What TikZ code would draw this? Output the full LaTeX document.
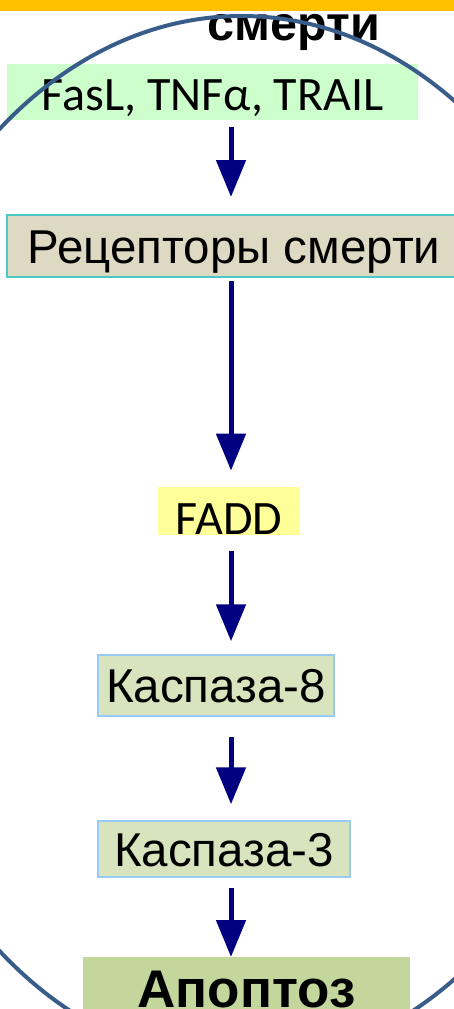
\documentclass[tikz,border=0pt]{standalone}
\usepackage{fontspec}
\usepackage{xcolor}
\setmainfont{Liberation Sans}
\newfontfamily\calibri{Carlito}
\usetikzlibrary{arrows.meta}

\definecolor{ovalblue}{HTML}{385D8A}
\definecolor{barorange}{HTML}{FFC000}
\definecolor{arrownavy}{HTML}{000080}
\definecolor{ligandgreen}{HTML}{CCFFCC}
\definecolor{receptorbeige}{HTML}{DDD9C3}
\definecolor{receptorteal}{HTML}{4BC8C8}
\definecolor{faddyellow}{HTML}{FFFF99}
\definecolor{caspasegreen}{HTML}{D7E4BD}
\definecolor{caspaseblue}{HTML}{99CCF5}
\definecolor{apoptosisgreen}{HTML}{C3D69B}

\begin{document}
\begin{tikzpicture}[x=1pt,y=-1pt,
	flow/.style={draw=arrownavy,line width=5pt,-{Triangle[length=37pt,width=29pt]}},
	calibritext/.style={font=\calibri\fontsize{48}{52}\selectfont,text depth=0pt,inner sep=0pt},
	arialtext/.style={font=\fontsize{47.5}{52}\selectfont,text height=34pt,text depth=0pt,inner sep=0pt},
	caspase/.style={arialtext,fill=caspasegreen,draw=caspaseblue,line width=1.5pt}]

	\useasboundingbox (0,0) rectangle (454,1009);
	\clip (0,0) rectangle (454,1009);

	\node[font=\bfseries\fontsize{48.5}{53}\selectfont,anchor=base,inner sep=0pt] (title) at (294,40) {смерти};

	\node[calibritext,text height=37pt,fill=ligandgreen,minimum width=411pt,minimum height=56pt] (ligands) at (212.5,92) {FasL, TNFα, TRAIL};
	\node[arialtext,fill=receptorbeige,draw=receptorteal,line width=2pt,minimum width=454pt,minimum height=62pt] (receptors) at (234,246) {Рецепторы смерти};
	\node[calibritext,text height=48pt,fill=faddyellow,minimum width=142pt,anchor=south] (fadd) at (229,535) {FADD};
	\node[caspase,minimum width=236pt,minimum height=61pt] (casp8) at (216,685.5) {Каспаза-8};
	\node[caspase,minimum width=252pt,minimum height=56pt] (casp3) at (224,849) {Каспаза-3};
	\node[font=\bfseries\fontsize{53}{58}\selectfont,text height=50pt,text depth=20pt,inner sep=0pt,fill=apoptosisgreen,minimum width=327pt,anchor=north] (apoptosis) at (246.5,957) {Апоптоз};

	\coordinate (axis) at (231,0);
	\draw[flow,shorten <=7pt,shorten >=17pt] (ligands.south -| axis) -- (receptors.north -| axis);
	\draw[flow,shorten <=3pt,shorten >=16pt] (receptors.south -| axis) -- (fadd.north -| axis);
	\draw[flow,shorten <=16pt,shorten >=13pt] (fadd.south -| axis) -- (casp8.north -| axis);
	\draw[flow,shorten <=20pt,shorten >=16pt] (casp8.south -| axis) -- (casp3.north -| axis);
	\draw[flow,shorten <=10pt] (casp3.south -| axis) -- (apoptosis.north -| axis);

	\draw[ovalblue,line width=4pt] (241.5,540) ellipse [x radius=390,y radius=524];
	\fill[barorange] (0,0) rectangle (454,10.5);
\end{tikzpicture}
\end{document}
